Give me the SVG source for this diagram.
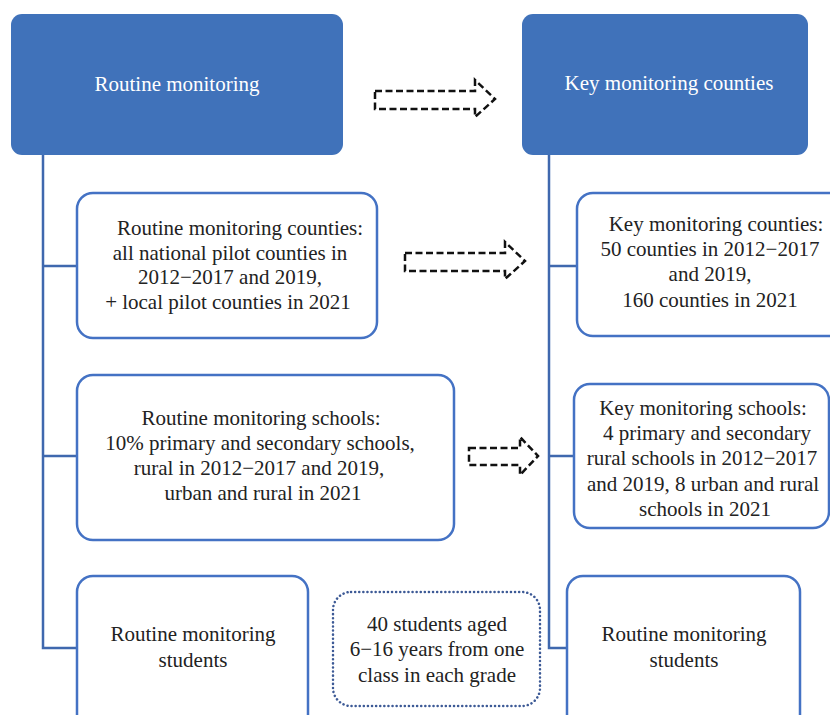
<svg xmlns="http://www.w3.org/2000/svg" width="830" height="715" viewBox="0 0 830 715">
<style>
.hdr{fill:#4072BA;}
.box{fill:#fff;stroke:#4472C4;stroke-width:2.5;}
.dot{fill:#fff;stroke:#3D5A96;stroke-width:2.5;stroke-dasharray:0.1 4;stroke-linecap:round;}
.ln{fill:none;stroke:#3F68AE;stroke-width:2.5;}
.arr{fill:none;stroke:#111;stroke-width:2.5;stroke-dasharray:7 3.5;}
text{font-family:"Liberation Serif","Times New Roman",serif;font-size:21px;fill:#222;text-anchor:middle;}
.w{fill:#fff;}
</style>
<rect width="830" height="715" fill="#fff"/>
<g id="connectors">
<path class="ln" d="M43 155 V648 H77 M43 266 H77 M43 456 H77"/>
<path class="ln" d="M549 155 V648 H567 M549 266 H577 M549 456 H574"/>
<path class="arr" d="M375 91 H475 V80 L495 99 L475 117 V109 H375 Z"/>
<path class="arr" d="M405 253 H505 V242 L525 261 L505 279 V271 H405 Z"/>
<path class="arr" d="M469 448 H520 V437 L538 456 L520 475 V465 H469 Z"/>
</g>
<g id="n1">
<rect class="hdr" x="11" y="14" width="332" height="141" rx="11"/>
<text class="w" x="177" y="91">Routine monitoring</text>
</g>
<g id="n2">
<rect class="hdr" x="522" y="14" width="286" height="141" rx="11"/>
<text class="w" x="669" y="90">Key monitoring counties</text>
</g>
<g id="n3">
<rect class="box" x="77" y="193" width="300" height="145" rx="16"/>
<text x="240" y="235">Routine monitoring counties:</text>
<text x="230" y="260">all national pilot counties in</text>
<text x="230" y="284">2012−2017 and 2019,</text>
<text x="228" y="309">+ local pilot counties in 2021</text>
</g>
<g id="n4">
<rect class="box" x="577" y="193" width="270" height="143" rx="16"/>
<text x="716" y="231">Key monitoring counties:</text>
<text x="710" y="256">50 counties in 2012−2017</text>
<text x="710" y="281">and 2019,</text>
<text x="710" y="307">160 counties in 2021</text>
</g>
<g id="n5">
<rect class="box" x="77" y="375" width="377" height="165" rx="16"/>
<text x="261" y="425">Routine monitoring schools:</text>
<text x="260" y="450">10% primary and secondary schools,</text>
<text x="259" y="475">rural in 2012−2017 and 2019,</text>
<text x="263" y="500">urban and rural in 2021</text>
</g>
<g id="n6">
<rect class="box" x="574" y="384" width="255" height="144" rx="16"/>
<text x="703" y="415">Key monitoring schools:</text>
<text x="707" y="440">4 primary and secondary</text>
<text x="702" y="465">rural schools in 2012−2017</text>
<text x="703" y="491">and 2019, 8 urban and rural</text>
<text x="705" y="516">schools in 2021</text>
</g>
<g id="n7">
<rect class="box" x="77" y="576" width="231" height="160" rx="16"/>
<text x="193" y="641">Routine monitoring</text>
<text x="193" y="667">students</text>
</g>
<g id="n8">
<rect class="dot" x="333" y="592" width="207" height="114" rx="18"/>
<text x="437" y="631">40 students aged</text>
<text x="437" y="656">6−16 years from one</text>
<text x="437" y="682">class in each grade</text>
</g>
<g id="n9">
<rect class="box" x="567" y="576" width="233" height="160" rx="16"/>
<text x="684" y="641">Routine monitoring</text>
<text x="684" y="667">students</text>
</g>
</svg>
